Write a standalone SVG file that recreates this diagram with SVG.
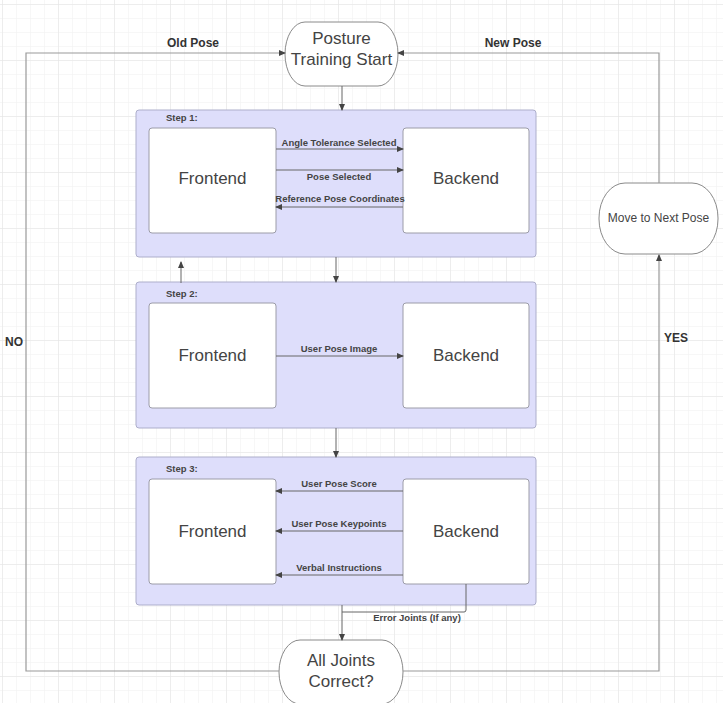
<svg xmlns="http://www.w3.org/2000/svg" width="723" height="703" viewBox="0 0 723 703">
<defs>
<pattern id="minor" x="2" y="4" width="14" height="14" patternUnits="userSpaceOnUse">
<path d="M0 0H14M0 0V14" fill="none" stroke="#efefef" stroke-width="1"/>
</pattern>
<pattern id="major" x="2" y="4" width="56" height="56" patternUnits="userSpaceOnUse">
<path d="M0 0H56M0 0V56" fill="none" stroke="#e3e3e3" stroke-width="1"/>
</pattern>
<marker id="ah" markerWidth="7" markerHeight="6" refX="6" refY="3" orient="auto" markerUnits="userSpaceOnUse">
<path d="M0 0L7 3L0 6Z" fill="#444"/>
</marker>
<style>
.step{fill:#dedefb;stroke:#adaecb;stroke-width:1}
.box{fill:#fff;stroke:#9c9ca8;stroke-width:1}
.term{fill:#fff;stroke:#8a8a8a;stroke-width:1}
.big{font-family:"Liberation Sans",Arial,sans-serif;font-size:17px;fill:#444;text-anchor:middle}
.lbl{font-family:"Liberation Sans",Arial,sans-serif;font-size:9.5px;font-weight:bold;fill:#444;text-anchor:middle}
.steplbl{font-family:"Liberation Sans",Arial,sans-serif;font-size:9.5px;font-weight:bold;fill:#444}
.loop{font-family:"Liberation Sans",Arial,sans-serif;font-size:12px;font-weight:bold;fill:#333;text-anchor:middle}
.c{fill:none;stroke:#666;stroke-width:1}
.lc{fill:none;stroke:#9a9a9a;stroke-width:1.2}
</style>
</defs>
<rect width="723" height="703" fill="#fff"/>
<rect width="723" height="703" fill="url(#minor)"/>
<rect width="723" height="703" fill="url(#major)"/>

<g id="start">
<rect class="term" x="285" y="22" width="113" height="64" rx="20" ry="32"/>
<text class="big" x="341.5" y="44">Posture</text>
<text class="big" x="341.5" y="65">Training Start</text>
</g>

<g id="step1">
<rect class="step" x="136" y="110" width="400" height="147" rx="3"/>
<text class="steplbl" x="166" y="120.5">Step 1:</text>
</g>
<g id="frontend1">
<rect class="box" x="149" y="128" width="127" height="105" rx="3"/>
<text class="big" x="212.5" y="184">Frontend</text>
</g>
<g id="backend1">
<rect class="box" x="403" y="128" width="126" height="105" rx="3"/>
<text class="big" x="466" y="184">Backend</text>
</g>

<g id="step2">
<rect class="step" x="136" y="282" width="400" height="146" rx="3"/>
<text class="steplbl" x="166" y="296.5">Step 2:</text>
</g>
<g id="frontend2">
<rect class="box" x="149" y="303" width="127" height="105" rx="3"/>
<text class="big" x="212.5" y="361">Frontend</text>
</g>
<g id="backend2">
<rect class="box" x="403" y="303" width="126" height="105" rx="3"/>
<text class="big" x="466" y="361">Backend</text>
</g>

<g id="step3">
<rect class="step" x="136" y="457" width="400" height="148" rx="3"/>
<text class="steplbl" x="166" y="471.5">Step 3:</text>
</g>
<g id="frontend3">
<rect class="box" x="149" y="479" width="127" height="105" rx="3"/>
<text class="big" x="212.5" y="537">Frontend</text>
</g>
<g id="backend3">
<rect class="box" x="403" y="479" width="126" height="105" rx="3"/>
<text class="big" x="466" y="537">Backend</text>
</g>

<g id="next">
<rect class="term" x="599" y="183" width="119" height="71" rx="26" ry="35"/>
<text class="big" x="658.5" y="222" style="font-size:12px">Move to Next Pose</text>
</g>

<g id="check">
<rect class="term" x="279" y="640" width="124" height="64" rx="21" ry="32"/>
<text class="big" x="341" y="666">All Joints</text>
<text class="big" x="341" y="687">Correct?</text>
</g>

<g id="connectors">
<path class="lc" d="M279 671H26V53H285" marker-end="url(#ah)"/>
<path class="lc" d="M403 671H659V255" marker-end="url(#ah)"/>
<path class="lc" d="M659 183V53H398" marker-end="url(#ah)"/>
<path class="c" d="M342 86V110" marker-end="url(#ah)"/>
<path class="c" d="M336 257V282" marker-end="url(#ah)"/>
<path class="c" d="M181 283V262" marker-end="url(#ah)"/>
<path class="c" d="M336 428V457" marker-end="url(#ah)"/>
<path class="c" d="M276 149H403" marker-end="url(#ah)"/>
<path class="c" d="M276 170H403" marker-end="url(#ah)"/>
<path class="c" d="M403 207H276" marker-end="url(#ah)"/>
<path class="c" d="M276 356H403" marker-end="url(#ah)"/>
<path class="c" d="M403 491H276" marker-end="url(#ah)"/>
<path class="c" d="M403 531H276" marker-end="url(#ah)"/>
<path class="c" d="M403 575H276" marker-end="url(#ah)"/>
<path class="c" d="M466 584V610Q466 612 464 612H342"/>
<path class="c" d="M342 605V640" marker-end="url(#ah)"/>
<text class="loop" x="193" y="47">Old Pose</text>
<text class="loop" x="513" y="47">New Pose</text>
<text class="loop" x="14" y="346">NO</text>
<text class="loop" x="676" y="342">YES</text>
<text class="lbl" x="339" y="145.5">Angle Tolerance Selected</text>
<text class="lbl" x="339" y="179.5">Pose Selected</text>
<text class="lbl" x="340" y="201.5">Reference Pose Coordinates</text>
<text class="lbl" x="339" y="351.5">User Pose Image</text>
<text class="lbl" x="339" y="486.5">User Pose Score</text>
<text class="lbl" x="339" y="526.5">User Pose Keypoints</text>
<text class="lbl" x="339" y="570.5">Verbal Instructions</text>
<text class="lbl" x="417" y="621">Error Joints (If any)</text>
</g>
</svg>
